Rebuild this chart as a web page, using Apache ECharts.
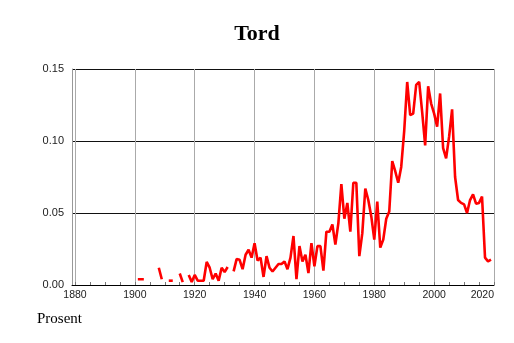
<!DOCTYPE html>
<html>
<head>
<meta charset="utf-8">
<script src="https://cdn.jsdelivr.net/npm/echarts@6/dist/echarts.min.js"></script>
<style>
html,body{margin:0;padding:0;background:#fff;}
#chart{width:514px;height:343px;}
</style>
</head>
<body>
<div id="chart"></div>
<script>
const titleText = 'Tord';
const yUnitText = 'Prosent';
const years = [
  1901,1902,1903,1904,1905,1906,1907,1908,1909,1910,
  1911,1912,1913,1914,1915,1916,1917,1918,1919,1920,
  1921,1922,1923,1924,1925,1926,1927,1928,1929,1930,
  1931,1932,1933,1934,1935,1936,1937,1938,1939,1940,
  1941,1942,1943,1944,1945,1946,1947,1948,1949,1950,
  1951,1952,1953,1954,1955,1956,1957,1958,1959,1960,
  1961,1962,1963,1964,1965,1966,1967,1968,1969,1970,
  1971,1972,1973,1974,1975,1976,1977,1978,1979,1980,
  1981,1982,1983,1984,1985,1986,1987,1988,1989,1990,
  1991,1992,1993,1994,1995,1996,1997,1998,1999,2000,
  2001,2002,2003,2004,2005,2006,2007,2008,2009,2010,
  2011,2012,2013,2014,2015,2016,2017,2018,2019
];
const values = [
  0.004,0.004,0.004,null,null,null,null,0.012,0.004,null,
  null,0.003,null,null,0.008,0.002,null,0.007,0.002,0.007,
  0.003,0.003,0.003,0.016,0.012,0.004,0.008,0.003,0.012,0.009,
  0.0125,null,0.0095,0.018,0.0175,0.011,0.021,0.0245,0.019,0.029,
  0.017,0.019,0.0056,0.020,0.012,0.0094,0.012,0.0146,0.0146,0.0164,
  0.011,0.019,0.034,0.004,0.027,0.0164,0.021,0.0083,0.029,0.013,
  0.027,0.027,0.010,0.037,0.037,0.042,0.028,0.043,0.070,0.046,
  0.057,0.037,0.071,0.071,0.020,0.036,0.067,0.059,0.0476,0.0315,
  0.058,0.026,0.0315,0.046,0.051,0.086,0.079,0.071,0.082,0.107,
  0.141,0.118,0.119,0.139,0.141,0.120,0.097,0.138,0.126,0.119,
  0.110,0.133,0.095,0.088,0.103,0.122,0.075,0.059,0.057,0.056,
  0.050,0.059,0.063,0.0565,0.057,0.0615,0.019,0.0164,0.0176
];
const xTickLabels = [1880,1900,1920,1940,1960,1980,2000,2020];
const xMinorTicks = [1880,1885,1890,1895,1900,1905,1910,1915,1920,1925,1930,1935,1940,1945,1950,1955,1960,1965,1970,1975,1980,1985,1990,1995,2000,2005,2010,2015,2020];

const chart = echarts.init(document.getElementById('chart'), null, {renderer: 'canvas'});
const seriesData = years.map((y, i) => {
  const v = values[i];
  const prev = i > 0 ? values[i - 1] : null;
  const next = i < values.length - 1 ? values[i + 1] : null;
  const isolated = v != null && prev == null && next == null;
  return isolated
    ? {value: [y, v], symbol: 'rect', symbolSize: [4, 2.6]}
    : {value: [y, v]};
});

chart.setOption({
  animation: false,
  backgroundColor: '#ffffff',
  title: [
    {text: titleText, left: 'center', top: 18,
     textStyle: {fontFamily: 'Liberation Serif', fontWeight: 'bold', fontSize: 22, color: '#000'}},
    {text: yUnitText, left: 32, top: 307,
     textStyle: {fontFamily: 'Liberation Serif', fontWeight: 'normal', fontSize: 15, color: '#000'}}
  ],
  grid: {left: 72, right: 20, top: 69, bottom: 58, containLabel: false},
  xAxis: [
    {
      type: 'value', min: 1879, max: 2020,
      axisLine: {show: true, onZero: false, lineStyle: {color: '#000', width: 1}},
      axisTick: {show: false, customValues: xTickLabels},
      axisLabel: {show: true, customValues: xTickLabels, fontFamily: 'Liberation Sans', fontSize: 10.5, color: '#222', margin: 5, alignMaxLabel: 'right',
        formatter: v => String(Math.round(v))},
      splitLine: {show: true, lineStyle: {color: '#aaaaaa', width: 1}}
    },
    {
      type: 'value', min: 1879, max: 2020, position: 'bottom',
      axisLine: {show: false},
      axisTick: {show: true, inside: true, length: 3, customValues: xMinorTicks, lineStyle: {color: '#777'}},
      axisLabel: {show: false},
      splitLine: {show: false}
    }
  ],
  yAxis: {
    type: 'value', min: 0, max: 0.15, interval: 0.05,
    axisLine: {show: true, lineStyle: {color: '#999', width: 1}},
    axisTick: {show: false},
    axisLabel: {fontFamily: 'Liberation Sans', fontSize: 11, color: '#222', margin: 8,
      formatter: v => v.toFixed(2)},
    splitLine: {show: true, lineStyle: {color: '#111', width: 1}}
  },
  series: [{
    type: 'line',
    data: seriesData,
    showSymbol: true,
    symbol: 'none',
    connectNulls: false,
    lineStyle: {color: '#ff0000', width: 2.6},
    itemStyle: {color: '#ff0000'},
    z: 5
  }]
});
</script>
</body>
</html>
